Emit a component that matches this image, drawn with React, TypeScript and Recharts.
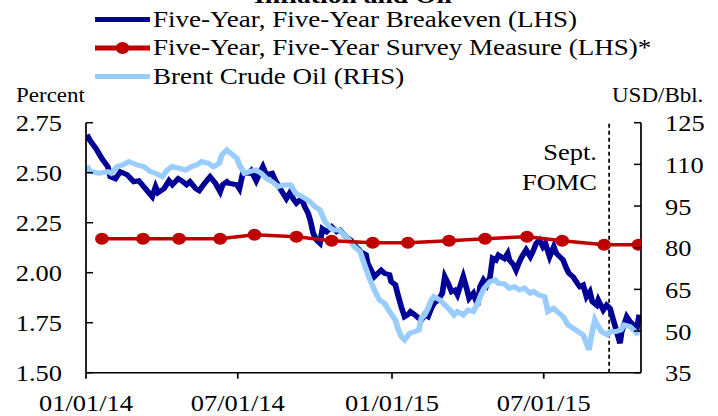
import { LineChart, Line, XAxis, YAxis, ReferenceLine } from "recharts";

// 5y5y breakeven (LHS, percent)
const breakevenDates = [
  "2014-01-02", "2014-01-06", "2014-01-13", "2014-01-20", "2014-01-27", "2014-01-30", "2014-02-05", "2014-02-11",
  "2014-02-19", "2014-02-27", "2014-03-05", "2014-03-11", "2014-03-17", "2014-03-21", "2014-03-25", "2014-03-28",
  "2014-04-04", "2014-04-10", "2014-04-14", "2014-04-21", "2014-04-25", "2014-05-01", "2014-05-05", "2014-05-12",
  "2014-05-16", "2014-05-23", "2014-05-29", "2014-06-04", "2014-06-10", "2014-06-13", "2014-06-18", "2014-06-20",
  "2014-06-30", "2014-07-03", "2014-07-07", "2014-07-14", "2014-07-17", "2014-07-23", "2014-07-28", "2014-07-31",
  "2014-08-04", "2014-08-11", "2014-08-15", "2014-08-22", "2014-08-28", "2014-09-02", "2014-09-05", "2014-09-09",
  "2014-09-15", "2014-09-19", "2014-09-23", "2014-09-26", "2014-09-29", "2014-10-03", "2014-10-07", "2014-10-10",
  "2014-10-15", "2014-10-21", "2014-10-27", "2014-10-31", "2014-11-07", "2014-11-13", "2014-11-19", "2014-11-25",
  "2014-12-01", "2014-12-03", "2014-12-08", "2014-12-11", "2014-12-15", "2014-12-19", "2014-12-23", "2014-12-29",
  "2014-12-31", "2015-01-05", "2015-01-08", "2015-01-12", "2015-01-16", "2015-01-20", "2015-01-23", "2015-01-28",
  "2015-02-02", "2015-02-05", "2015-02-09", "2015-02-13", "2015-02-17", "2015-02-20", "2015-02-25", "2015-03-02",
  "2015-03-05", "2015-03-09", "2015-03-13", "2015-03-17", "2015-03-20", "2015-03-27", "2015-03-31", "2015-04-03",
  "2015-04-08", "2015-04-13", "2015-04-16", "2015-04-20", "2015-04-24", "2015-04-28", "2015-05-01", "2015-05-05",
  "2015-05-08", "2015-05-15", "2015-05-19", "2015-05-21", "2015-05-26", "2015-05-29", "2015-06-02", "2015-06-05",
  "2015-06-10", "2015-06-15", "2015-06-18", "2015-06-22", "2015-06-26", "2015-06-30", "2015-07-03", "2015-07-08",
  "2015-07-13", "2015-07-16", "2015-07-20", "2015-07-24", "2015-07-28", "2015-07-31", "2015-08-05", "2015-08-10",
  "2015-08-13", "2015-08-17", "2015-08-21", "2015-08-25", "2015-08-28", "2015-09-02", "2015-09-04", "2015-09-10",
  "2015-09-14", "2015-09-18", "2015-09-22", "2015-09-25", "2015-09-30", "2015-10-02", "2015-10-08", "2015-10-12",
  "2015-10-16", "2015-10-20", "2015-10-23",
];
const breakevenValues = [
  2.69, 2.66, 2.62, 2.57, 2.53, 2.48, 2.47, 2.505,
  2.49, 2.455, 2.46, 2.43, 2.4, 2.38, 2.43, 2.4,
  2.42, 2.46, 2.44, 2.47, 2.46, 2.44, 2.455, 2.42,
  2.41, 2.45, 2.48, 2.45, 2.405, 2.44, 2.455, 2.447,
  2.44, 2.42, 2.497, 2.497, 2.51, 2.46, 2.505, 2.53,
  2.49, 2.497, 2.46, 2.41, 2.37, 2.405, 2.37, 2.347,
  2.37, 2.33, 2.297, 2.255, 2.197, 2.163, 2.147, 2.22,
  2.205, 2.23, 2.205, 2.213, 2.18, 2.163, 2.13, 2.105,
  2.09, 2.047, 2.005, 1.98, 1.997, 2.013, 1.997, 1.99,
  1.955, 1.94, 1.89, 1.83, 1.78, 1.79, 1.805, 1.79,
  1.772, 1.763, 1.79, 1.78, 1.822, 1.847, 1.863, 1.897,
  1.98, 1.947, 1.905, 1.913, 1.89, 1.98, 1.922, 1.872,
  1.897, 1.838, 1.93, 1.963, 1.938, 1.98, 2.072, 2.063,
  2.088, 2.07, 2.097, 2.064, 2.04, 2.013, 2.055, 2.08,
  2.114, 2.08, 2.105, 2.147, 2.163, 2.13, 2.147, 2.08,
  2.13, 2.097, 2.08, 2.064, 2.022, 1.997, 1.98, 1.947,
  1.93, 1.938, 1.88, 1.905, 1.855, 1.838, 1.863, 1.813,
  1.838, 1.822, 1.763, 1.72, 1.647, 1.705, 1.78, 1.755,
  1.738, 1.72, 1.79,
];

// Brent crude (RHS, USD/bbl)
const brentDates = [
  "2014-01-02", "2014-01-06", "2014-01-17", "2014-01-27", "2014-01-31", "2014-02-07", "2014-02-14", "2014-02-21",
  "2014-03-03", "2014-03-11", "2014-03-19", "2014-03-25", "2014-04-02", "2014-04-08", "2014-04-14", "2014-04-22",
  "2014-04-30", "2014-05-07", "2014-05-13", "2014-05-19", "2014-05-27", "2014-06-02", "2014-06-09", "2014-06-12",
  "2014-06-18", "2014-06-20", "2014-06-30", "2014-07-03", "2014-07-09", "2014-07-15", "2014-07-23", "2014-07-29",
  "2014-08-04", "2014-08-11", "2014-08-18", "2014-08-25", "2014-09-02", "2014-09-08", "2014-09-12", "2014-09-19",
  "2014-09-25", "2014-10-01", "2014-10-07", "2014-10-13", "2014-10-20", "2014-10-24", "2014-10-30", "2014-11-05",
  "2014-11-11", "2014-11-17", "2014-11-24", "2014-11-28", "2014-12-05", "2014-12-11", "2014-12-17", "2014-12-23",
  "2014-12-29", "2015-01-05", "2015-01-08", "2015-01-12", "2015-01-16", "2015-01-22", "2015-01-28", "2015-02-02",
  "2015-02-05", "2015-02-09", "2015-02-13", "2015-02-17", "2015-02-20", "2015-02-27", "2015-03-05", "2015-03-11",
  "2015-03-16", "2015-03-20", "2015-03-27", "2015-04-02", "2015-04-08", "2015-04-14", "2015-04-17", "2015-04-21",
  "2015-04-28", "2015-05-04", "2015-05-08", "2015-05-15", "2015-05-21", "2015-05-27", "2015-06-02", "2015-06-08",
  "2015-06-15", "2015-06-19", "2015-06-25", "2015-07-02", "2015-07-06", "2015-07-13", "2015-07-17", "2015-07-24",
  "2015-07-30", "2015-08-05", "2015-08-11", "2015-08-17", "2015-08-21", "2015-08-24", "2015-08-27", "2015-08-31",
  "2015-09-03", "2015-09-08", "2015-09-11", "2015-09-15", "2015-09-18", "2015-09-25", "2015-10-01", "2015-10-05",
  "2015-10-12", "2015-10-16", "2015-10-22",
];
const brentValues = [
  109.5, 107.4, 106.8, 107.4, 106.8, 109.2, 109.8, 111,
  109.8, 109.2, 107.4, 106.8, 105.6, 108, 109.2, 108.6,
  108, 109.2, 109.8, 111, 110.4, 109.2, 110.4, 113.4,
  115.2, 114.6, 112.2, 109.8, 106.8, 107.4, 108, 106.8,
  105, 103.8, 102, 102.6, 102.6, 99.6, 99, 97.8,
  96.6, 94.8, 93.6, 89.4, 87, 86.4, 86.4, 84.6,
  82.8, 80.4, 78.6, 75, 69, 64.8, 61.2, 60,
  57, 54, 51, 48, 46.8, 49.2, 49.8, 50.4,
  54.6, 55.8, 58.2, 61.2, 62.4, 61.2, 59.4, 57.6,
  55.8, 57, 55.8, 57.6, 57, 60.6, 63, 65.4,
  67.8, 68.4, 67.2, 67, 65.4, 66, 64.8, 65.4,
  63.6, 64.2, 63, 62.4, 57, 58.2, 57, 55.2,
  52.2, 51, 49.8, 48.6, 45.6, 43.2, 48.6, 54,
  52.2, 49.8, 49.2, 48.6, 49.8, 49.8, 50.4, 52.2,
  51.6, 50.4, 48.6,
];

// 5y5y survey measure (LHS, percent)
const surveyDates = [
  "2014-01-20", "2014-03-10", "2014-04-22", "2014-06-10", "2014-07-21", "2014-09-09", "2014-10-21", "2014-12-09",
  "2015-01-20", "2015-03-10", "2015-04-22", "2015-06-11", "2015-07-23", "2015-09-11", "2015-10-22",
];
const surveyValues = [2.17, 2.17, 2.17, 2.17, 2.19, 2.18, 2.16, 2.15, 2.15, 2.16, 2.17, 2.18, 2.16, 2.14, 2.14];

const xTickDates = ["2014-01-01", "2014-07-01", "2015-01-01", "2015-07-01"];
const xTickLabels = ["01/01/14", "07/01/14", "01/01/15", "07/01/15"];
const leftTicks = [1.5, 1.75, 2, 2.25, 2.5, 2.75];
const rightTicks = [35, 50, 65, 80, 95, 110, 125];
const fomcDate = "2015-09-17";
const endDate = "2015-10-25";

const START = Date.parse("2014-01-01");
const dayOf = (d: string) => (Date.parse(d) - START) / 86400000;

const breakevenData = breakevenDates.map((d, i) => ({ t: dayOf(d), v: breakevenValues[i] }));
const brentData = brentDates.map((d, i) => ({ t: dayOf(d), v: brentValues[i] }));
const surveyData = surveyDates.map((d, i) => ({ t: dayOf(d), v: surveyValues[i] }));
const xTickDays = xTickDates.map(dayOf);

// the reference is a bit wider than Times glyphs, so the whole thing is stretched horizontally
const S = 1.15;
const X = (x: number) => x / S;
const W = 718 / S;
const H = 416;
const FONT = '"Liberation Serif", "Times New Roman", serif';
const PLOT_L = X(86);
const PLOT_R = X(641);
const PLOT_T = 122.7;
const PLOT_B = 372.7;

const NAVY = "#000096";
const SKY = "#99CCFF";
const RED = "#C00000";

function LeftTick({ y, payload }: any) {
  return (
    <g>
      <line x1={PLOT_L} x2={PLOT_L + X(7)} y1={y} y2={y} stroke="#000" strokeWidth={1.5} />
      <text x={X(62)} y={y + 8.5} textAnchor="end" fontSize={23} fontFamily={FONT} fill="#000">
        {Number(payload.value).toFixed(2)}
      </text>
    </g>
  );
}

function RightTick({ y, payload }: any) {
  return (
    <g>
      <line x1={PLOT_R - X(7)} x2={PLOT_R} y1={y} y2={y} stroke="#000" strokeWidth={1.5} />
      <text x={X(665)} y={y + 8.5} textAnchor="start" fontSize={23} fontFamily={FONT} fill="#000">
        {payload.value}
      </text>
    </g>
  );
}

function BottomTick({ x, payload }: any) {
  const i = xTickDays.indexOf(payload.value);
  return (
    <text x={x} y={411.5} textAnchor="middle" fontSize={23} fontFamily={FONT} fill="#000">
      {xTickLabels[i]}
    </text>
  );
}

const legendRows = [
  { label: "Five-Year, Five-Year Breakeven (LHS)", color: NAVY, dot: false },
  { label: "Five-Year, Five-Year Survey Measure (LHS)*", color: RED, dot: true },
  { label: "Brent Crude Oil (RHS)", color: SKY, dot: false },
];

export default function App() {
  return (
    <div style={{ position: "absolute", left: 0, top: 0, width: 718, height: H, overflow: "hidden", background: "#fff" }}>
      <div style={{ position: "absolute", left: 0, top: 0, width: W, height: H, transform: `scaleX(${S})`, transformOrigin: "0 0" }}>
        <LineChart width={W} height={H} margin={{ top: PLOT_T, right: 0, bottom: 0, left: 0 }}>
          <XAxis
            type="number"
            dataKey="t"
            domain={[0, dayOf(endDate)]}
            ticks={xTickDays}
            interval={0}
            height={H - PLOT_B}
            tickSize={6}
            tickLine={{ stroke: "#000", strokeWidth: 1.5 }}
            axisLine={{ stroke: "#000", strokeWidth: 1.5 }}
            tick={<BottomTick />}
            allowDataOverflow
          />
          <YAxis
            yAxisId="left"
            orientation="left"
            width={PLOT_L}
            domain={[1.5, 2.75]}
            ticks={leftTicks}
            interval={0}
            tickLine={false}
            axisLine={{ stroke: "#000", strokeWidth: 1.5 }}
            tick={<LeftTick />}
            allowDataOverflow
          />
          <YAxis
            yAxisId="right"
            orientation="right"
            width={W - PLOT_R}
            domain={[35, 125]}
            ticks={rightTicks}
            interval={0}
            tickLine={false}
            axisLine={{ stroke: "#000", strokeWidth: 1.5 }}
            tick={<RightTick />}
            allowDataOverflow
          />
          <ReferenceLine
            x={dayOf(fomcDate)}
            yAxisId="left"
            stroke="#000"
            strokeWidth={1.5}
            strokeDasharray="4 3"
          />
          <Line
            data={breakevenData}
            dataKey="v"
            yAxisId="left"
            type="linear"
            stroke={NAVY}
            strokeWidth={5}
            dot={false}
            isAnimationActive={false}
          />
          <Line
            data={brentData}
            dataKey="v"
            yAxisId="right"
            type="linear"
            stroke={SKY}
            strokeWidth={5}
            dot={false}
            isAnimationActive={false}
          />
          <Line
            data={surveyData}
            dataKey="v"
            yAxisId="left"
            type="linear"
            stroke={RED}
            strokeWidth={3.5}
            dot={{ r: 6, fill: RED, stroke: RED, strokeWidth: 0 }}
            isAnimationActive={false}
          />
        </LineChart>
        <svg width={W} height={H} style={{ position: "absolute", left: 0, top: 0, pointerEvents: "none" }}>
          <text x={X(353)} y={3} textAnchor="middle" fontSize={24} fontWeight="bold" fontFamily={FONT} fill="#000">
            Inflation and Oil
          </text>
          {legendRows.map((row, i) => {
            const base = 27 + i * 28.5;
            const ly = base - 7.5;
            return (
              <g key={row.label}>
                <line x1={X(95)} x2={X(150)} y1={ly} y2={ly} stroke={row.color} strokeWidth={5} />
                {row.dot && <circle cx={X(122.5)} cy={ly} r={6} fill={row.color} />}
                <text x={X(153)} y={base} fontSize={23.5} fontFamily={FONT} fill="#000">
                  {row.label}
                </text>
              </g>
            );
          })}
          <text x={X(16)} y={102} fontSize={20} fontFamily={FONT} fill="#000">Percent</text>
          <text x={X(612)} y={102} fontSize={20} fontFamily={FONT} fill="#000">USD/Bbl.</text>
          <text x={X(597)} y={160} textAnchor="end" fontSize={23} fontFamily={FONT} fill="#000">Sept.</text>
          <text x={X(597)} y={190} textAnchor="end" fontSize={23} fontFamily={FONT} fill="#000">FOMC</text>
        </svg>
      </div>
    </div>
  );
}
